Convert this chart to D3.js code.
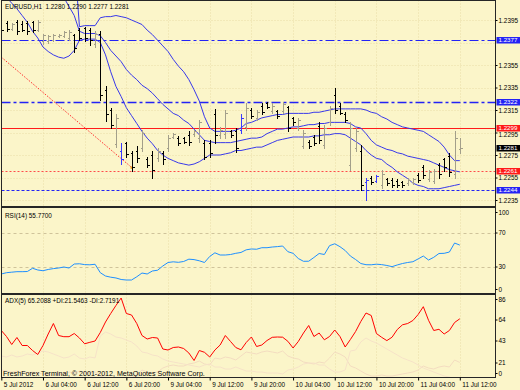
<!DOCTYPE html>
<html><head><meta charset="utf-8">
<script src="https://cdn.jsdelivr.net/npm/d3@7"></script>
<style>
body{margin:0;background:#fbf5c9;}
svg{display:block;}
text{font-family:"Liberation Sans",Arial,sans-serif;fill:#000;}
</style>
</head><body>
<svg id="c" width="520" height="390"></svg>
<script>
// ---------- DATA ----------
const symbol = "EURUSD,H1";
const timeLabels = ["5 Jul 2012","6 Jul 04:00","6 Jul 12:00","6 Jul 20:00","9 Jul 04:00","9 Jul 12:00","9 Jul 20:00","10 Jul 04:00","10 Jul 12:00","10 Jul 20:00","11 Jul 04:00","11 Jul 12:00"];
const labelEvery = 8; // bars between time labels (H1 bars)

const opens = [1.2393,1.2392,1.2387,1.2393,1.2391,1.2392,1.2393,1.2386,1.2376,1.2376,
1.2377,1.2381,1.2381,1.2379,1.2382,1.2386,1.2388,1.2386,1.2374,1.2383,
1.2333,1.2315,1.2285,1.2279,1.2286,1.2277,1.2279,1.2281,1.2271,1.2275,
1.2272,1.2277,1.2281,1.2291,1.2290,1.2290,1.2293,1.2294,1.2290,1.2286,
1.2286,1.2311,1.2293,1.2294,1.2296,1.2296,1.2297,1.2300,1.2315,1.2308,
1.2319,1.2321,1.2314,1.2314,1.2314,1.2318,1.2308,1.2299,1.2283,1.2287,
1.2291,1.2301,1.2284,1.2304,1.2328,1.2319,1.2311,1.2266,1.2281,1.2279,
1.2251,1.2255,1.2252,1.2248,1.2254,1.2253,1.2252,1.2251,1.2250,1.2251,
1.2257,1.2264,1.2254,1.2252,1.2266,1.2271,1.2274,1.2258,1.2280];
const highs = [1.2394,1.2394,1.2392,1.2395,1.2394,1.2394,1.2394,1.2395,1.2383,1.2382,
1.2383,1.2383,1.2385,1.2386,1.2383,1.2388,1.2389,1.2388,1.2385,1.2385,
1.2336,1.2317,1.2311,1.2286,1.2287,1.2279,1.2283,1.2297,1.2273,1.2279,
1.2281,1.2279,1.2293,1.2295,1.2292,1.2291,1.2296,1.2297,1.2306,1.2288,
1.2288,1.2316,1.2300,1.2315,1.2297,1.2299,1.2311,1.2321,1.2317,1.2315,
1.2321,1.2322,1.2321,1.2315,1.2322,1.2319,1.2309,1.2308,1.2297,1.2288,
1.2293,1.2304,1.2302,1.2319,1.2335,1.2321,1.2313,1.2304,1.2299,1.2284,
1.2255,1.2256,1.2257,1.2262,1.2255,1.2255,1.2254,1.2252,1.2255,1.2255,
1.2259,1.2266,1.2262,1.2263,1.2268,1.2272,1.2277,1.2296,1.2290];
const lows = [1.2384,1.2385,1.2386,1.2383,1.2385,1.2383,1.2384,1.2385,1.2374,1.2375,
1.2376,1.2380,1.2380,1.2377,1.2367,1.2377,1.2376,1.2373,1.2371,1.2324,
1.2305,1.2299,1.2282,1.2267,1.2273,1.2261,1.2269,1.2279,1.2264,1.2255,
1.2270,1.2267,1.2279,1.2290,1.2284,1.2286,1.2284,1.2292,1.2287,1.2271,
1.2273,1.2286,1.2290,1.2290,1.2291,1.2278,1.2295,1.2297,1.2308,1.2306,
1.2311,1.2317,1.2312,1.2308,1.2312,1.2296,1.2302,1.2297,1.2281,1.2281,
1.2284,1.2286,1.2281,1.2302,1.2312,1.2311,1.2304,1.2262,1.2279,1.2244,
1.2235,1.2249,1.2251,1.2246,1.2248,1.2247,1.2247,1.2247,1.2248,1.2249,
1.2251,1.2255,1.2252,1.2250,1.2255,1.2261,1.2256,1.2255,1.2277];
const closes = [1.2386,1.2387,1.2391,1.2385,1.2386,1.2385,1.2386,1.2393,1.2382,1.2381,
1.2382,1.2382,1.2384,1.2384,1.2370,1.2379,1.2379,1.2377,1.2383,1.2328,
1.2311,1.2302,1.2308,1.2271,1.2276,1.2264,1.2272,1.2295,1.2266,1.2262,
1.2279,1.2271,1.2290,1.2294,1.2286,1.2287,1.2287,1.2296,1.2304,1.2273,
1.2277,1.2293,1.2297,1.2312,1.2293,1.2281,1.2308,1.2317,1.2310,1.2313,
1.2313,1.2318,1.2319,1.2310,1.2320,1.2299,1.2304,1.2306,1.2295,1.2283,
1.2286,1.2288,1.2299,1.2317,1.2315,1.2312,1.2306,1.2299,1.2296,1.2248,
1.2253,1.2251,1.2256,1.2258,1.2250,1.2248,1.2248,1.2248,1.2253,1.2254,
1.2253,1.2257,1.2260,1.2261,1.2258,1.2264,1.2260,1.2290,1.2281];
const signalBars = [23,46,70,72];

const bandUpper = [1.2530,1.2528,1.2525,1.2522,1.2519,1.2515,1.2511,1.2506,1.2500,1.2494,1.2487,1.2480,1.2472,1.2463,1.2452,
1.2389,1.2390,1.2390,1.2390,1.2397,1.2398,1.2398,1.2399,1.2398,1.2397,1.2395,1.2393,1.2391,1.2386,1.2382,
1.2377,1.2372,1.2367,1.2360,1.2354,1.2349,1.2342,1.2333,1.2323,1.2309,1.2299,1.2296,1.2296,1.2296,1.2296,
1.2297,1.2299,1.2303,1.2304,1.2306,1.2308,1.2309,1.2310,1.2311,1.2311,1.2312,1.2312,1.2312,1.2312,1.2312,
1.2313,1.2313,1.2314,1.2315,1.2316,1.2316,1.2316,1.2316,1.2316,1.2316,1.2315,1.2313,1.2312,1.2309,1.2307,
1.2304,1.2302,1.2300,1.2299,1.2298,1.2297,1.2296,1.2293,1.2290,1.2287,1.2282,1.2275,1.2270,1.2270];
const bandMiddle = [1.2470,1.2466,1.2462,1.2457,1.2452,1.2447,1.2442,1.2437,1.2432,1.2427,1.2423,1.2419,1.2415,1.2407,1.2399,
1.2385,1.2383,1.2383,1.2383,1.2381,1.2375,1.2368,1.2363,1.2358,1.2351,1.2346,1.2342,1.2337,1.2334,1.2330,
1.2325,1.2320,1.2316,1.2312,1.2310,1.2306,1.2303,1.2298,1.2293,1.2288,1.2287,1.2286,1.2286,1.2286,1.2286,
1.2287,1.2288,1.2289,1.2290,1.2290,1.2291,1.2294,1.2296,1.2298,1.2298,1.2299,1.2300,1.2300,1.2301,1.2302,
1.2302,1.2303,1.2303,1.2304,1.2304,1.2304,1.2304,1.2303,1.2300,1.2299,1.2294,1.2288,1.2284,1.2282,1.2280,
1.2279,1.2277,1.2276,1.2274,1.2273,1.2272,1.2271,1.2270,1.2268,1.2266,1.2264,1.2262,1.2261,1.2260];
const bandLower = [1.2417,1.2415,1.2410,1.2405,1.2399,1.2393,1.2385,1.2379,1.2371,1.2367,1.2364,1.2362,1.2361,1.2363,1.2368,
1.2377,1.2378,1.2378,1.2378,1.2375,1.2364,1.2349,1.2336,1.2327,1.2317,1.2310,1.2303,1.2296,1.2290,1.2285,
1.2279,1.2275,1.2272,1.2270,1.2268,1.2267,1.2266,1.2267,1.2269,1.2272,1.2275,1.2275,1.2275,1.2276,1.2277,
1.2279,1.2279,1.2280,1.2281,1.2282,1.2282,1.2284,1.2286,1.2288,1.2289,1.2290,1.2291,1.2291,1.2291,1.2291,
1.2292,1.2292,1.2293,1.2293,1.2294,1.2294,1.2293,1.2290,1.2287,1.2284,1.2279,1.2275,1.2272,1.2271,1.2267,
1.2264,1.2260,1.2257,1.2254,1.2250,1.2248,1.2247,1.2245,1.2245,1.2245,1.2246,1.2247,1.2248,1.2249];

const priceTicks = [1.2235,1.2255,1.2275,1.2295,1.2315,1.2335,1.2355,1.2375,1.2395];
const dashDotLevels = [1.2377,1.2322];
const solidRedLevels = [1.2299];
const dottedRedLevels = [1.2261];
const dottedBlueLevels = [1.2244];
const trendIdx = [0,25];
const trendPrice = [1.2362,1.2264];

const rsi = [21.8,23.3,23.9,24.5,24.5,24.7,28.5,26.5,25.6,27.1,
28.1,28.8,30.0,28.8,33.5,33.8,32.8,32.6,33.2,23.3,
19.4,18.0,17.1,15.3,14.7,14.7,18.5,22.9,21.8,25.3,
26.2,31.2,35.3,36.1,35.5,36.5,39.2,38.7,37.3,35.3,
42.4,46.7,44.1,44.1,44.7,46.1,47.1,50.2,51.2,50.9,
52.7,52.7,53.5,54.0,54.7,48.0,46.1,40.0,36.7,36.8,
41.2,45.9,44.7,55.1,57.3,53.9,49.4,42.9,38.8,34.1,
32.7,32.6,33.3,32.8,31.8,30.4,32.4,34.1,35.3,36.2,
39.5,42.9,38.2,41.4,45.9,46.1,47.6,58.2,55.77];
const rsiLevels = [70,30];
const rsiTicks = [100,70,30,0];

const adx = [53.5,47.5,39.5,46.5,38.5,38.5,33.5,29.5,38.5,50,
60.5,48.5,47.3,47.3,50.5,46,40.2,41.7,43,51.5,
62,70.5,78.5,86,70.5,69,60.5,48.5,45,46.5,
46,35,34,36.5,37,35.5,31,23.5,33.5,31.7,
27,34,39,48.5,42.5,36.5,34.2,41.5,47,37.5,
39,43.5,46.7,47,46.8,42.7,36,42.5,51,58.5,
47.5,51,44.2,47.5,54,47.5,37,44.5,52.5,62.5,
71,68.5,50.5,46.7,43.4,46.8,54.5,59.2,60.5,63.5,
69.5,77.3,63.7,53.5,54.7,50,53.5,61.5,65.2088];
const plusDI = [14,13,12,13,12,11,12,11,10,9,
9,10,10,12,11,13,12,11,12,8,
6,5,4,4,5,6,9,14,12,11,
12,16,18,19,18,18,20,21,23,20,
19,26,25,27,26,24,28,32,31,30,
32,33,32,31,33,28,26,25,22,21,
20,22,21,26,32,30,27,18,16,13,
10,8,8,9,8,8,9,10,11,12,
14,18,16,15,17,18,17,24,21.5463];
const minusDI = [28,27,29,27,28,30,29,31,33,32,
30,28,26,27,30,26,25,27,26,48,
52,50,47,46,44,42,38,32,31,29,
28,25,23,22,21,20,19,18,17,19,
20,17,17,15,15,17,15,13,13,12,
12,11,11,11,10,14,15,17,20,21,
21,19,19,15,12,12,14,33,34,42,
46,43,41,38,35,32,29,26,24,22,
19,16,14,12,10,8,7,4,2.7191];
const adxTicks = [86,64,43,21,0];
const footer = "FreshForex Terminal, \u00A9 2001-2012, MetaQuotes Software Corp.";

// ---------- LAYOUT ----------
const svg = d3.select('#c');
const PL = 1.5, PR = 495.5;
const P = {main:[0.5,206.5], rsi:[207.5,293.5], adx:[294.5,377.5]};
const n = opens.length;
const x = d3.scaleLinear().domain([0, n-1]).range([1.3, 459.8]);
const yP = d3.scaleLinear().domain([1.2235,1.2395]).range([200,20]);
const yR = d3.scaleLinear().domain([0,100]).range([292.5,207.5]);
const yA = d3.scaleLinear().domain([0,86]).range([384,298]);
const f4 = d3.format('.4f');
const FS = '6.4px';
const BLUE = '#2323f5', RED = '#ff1a1a';

svg.append('rect').attr('width',520).attr('height',390).attr('fill','#fbf5c9');

const defs = svg.append('defs');
Object.entries(P).forEach(([k,[t,b]])=>{
  defs.append('clipPath').attr('id','clip-'+k).append('rect')
    .attr('x',PL).attr('y',t).attr('width',PR-PL).attr('height',b-t);
});

const tickIdx = timeLabels.map((d,i)=>i*labelEvery);

function panel(key){
  const g = svg.append('g').attr('clip-path',`url(#clip-${key})`);
  const [t,b] = P[key];
  g.append('g').selectAll('line').data(tickIdx).join('line')
    .attr('x1',d=>Math.round(x(d))+0.5).attr('x2',d=>Math.round(x(d))+0.5)
    .attr('y1',t).attr('y2',b).attr('stroke','#e8dda6').attr('stroke-dasharray','1,2');
  return g;
}

// ---------- MAIN ----------
const gm = panel('main');
gm.append('g').selectAll('line').data(priceTicks).join('line')
  .attr('x1',PL).attr('x2',PR).attr('y1',d=>Math.round(yP(d))+0.5).attr('y2',d=>Math.round(yP(d))+0.5)
  .attr('stroke','#e8dda6').attr('stroke-dasharray','1,2');

const hline = (vals, color, dash, w) => gm.append('g').selectAll('line').data(vals).join('line')
  .attr('x1',PL).attr('x2',PR).attr('y1',d=>Math.round(yP(d))+0.5).attr('y2',d=>Math.round(yP(d))+0.5)
  .attr('stroke',color).attr('stroke-width',(d,i)=>typeof w==='function'?w(i):w).attr('stroke-dasharray',dash);
hline(dashDotLevels, BLUE, '9,3,3,3', i=> i===0?1:1.6);
hline(solidRedLevels, RED, null, 1.2);
hline(dottedRedLevels, '#ff4a4a', '2,2', 1);
hline(dottedBlueLevels, BLUE, '3,2', 1.2);

gm.append('line')
  .attr('x1',x(trendIdx[0])).attr('y1',yP(trendPrice[0]))
  .attr('x2',x(trendIdx[1])).attr('y2',yP(trendPrice[1]))
  .attr('stroke','#ff3030').attr('stroke-dasharray','1.5,1.5');
gm.append('rect').attr('x',x(trendIdx[1])-1).attr('y',yP(trendPrice[1])-1).attr('width',2.5).attr('height',2.5).attr('fill','#f0a020');

const bandLine = d3.line().x((d,i)=>x(i)).y(d=>yP(d));
[bandUpper, bandMiddle, bandLower].forEach(arr=>{
  gm.append('path').attr('d',bandLine(arr)).attr('fill','none')
    .attr('stroke','#3838ea').attr('stroke-width',1);
});

const barColor = i => signalBars.includes(i) ? '#3a3aff' : (closes[i] >= opens[i] ? '#a39f8a' : '#000000');
gm.append('g').attr('shape-rendering','crispEdges').selectAll('path').data(d3.range(n)).join('path')
  .attr('fill','none').attr('stroke',barColor).attr('stroke-width',1)
  .attr('d', i=>{
    const xx = Math.round(x(i))+0.5;
    const yo = Math.round(yP(opens[i]))+0.5, yc = Math.round(yP(closes[i]))+0.5;
    return `M${xx},${Math.round(yP(highs[i]))}V${Math.round(yP(lows[i]))+1}M${xx-2},${yo}H${xx}M${xx},${yc}H${xx+2}`;
  });

svg.append('text').attr('x',5).attr('y',9).style('font-size',FS).style('white-space','pre')
  .text(`${symbol}  ${f4(opens[n-1])} ${f4(highs[n-1])} ${f4(lows[n-1])} ${f4(closes[n-1])}`);

// ---------- RSI ----------
const gr = panel('rsi');
gr.append('g').selectAll('line').data(rsiLevels).join('line')
  .attr('x1',PL).attr('x2',PR).attr('y1',d=>Math.round(yR(d))+0.5).attr('y2',d=>Math.round(yR(d))+0.5)
  .attr('stroke','#cfc39a').attr('stroke-dasharray','3,3');
gr.append('path').attr('d', d3.line().x((d,i)=>x(i)).y(d=>yR(d))(rsi))
  .attr('fill','none').attr('stroke','#1e8fff').attr('stroke-width',1);
svg.append('text').attr('x',5).attr('y',217.5).style('font-size',FS)
  .text(`RSI(14) ${f4(rsi[n-1])}`);

// ---------- ADX ----------
const ga = panel('adx');
const adxLine = d3.line().x((d,i)=>x(i)).y(d=>yA(d));
ga.append('path').attr('d',adxLine(plusDI)).attr('fill','none').attr('stroke','#f3dcc0').attr('stroke-width',1);
ga.append('path').attr('d',adxLine(minusDI)).attr('fill','none').attr('stroke','#f6e2c8').attr('stroke-width',1);
ga.append('path').attr('d',adxLine(adx)).attr('fill','none').attr('stroke','#ff0000').attr('stroke-width',1);
svg.append('text').attr('x',5).attr('y',303).style('font-size',FS).style('white-space','pre')
  .text(`ADX(5) ${f4(adx[n-1])} +DI:${f4(plusDI[n-1])} -DI:${f4(minusDI[n-1])}`);
svg.append('text').attr('x',3).attr('y',376).style('font-size','7.1px').text(footer);

// ---------- BORDERS ----------
Object.values(P).forEach(([t,b])=>{
  svg.append('rect').attr('x',PL).attr('y',t).attr('width',PR-PL).attr('height',b-t)
    .attr('fill','none').attr('stroke','#262626').attr('stroke-width',1).attr('shape-rendering','crispEdges');
});

// ---------- AXES ----------
const boxLevels = [...dashDotLevels, ...dottedBlueLevels, ...solidRedLevels, ...dottedRedLevels, closes[n-1]];
const boxYs = boxLevels.map(v=>Math.round(yP(v)));
// tick labels hidden by a level box are dropped; ones just below a box are nudged down
const visibleTicks = priceTicks.filter(t=>!boxYs.some(by=>Math.abs(yP(t)-by) < 4));
const ax = svg.append('g').attr('transform',`translate(${PR},0)`)
  .call(d3.axisRight(yP).tickValues(visibleTicks).tickSize(2).tickPadding(1).tickFormat(f4));
ax.select('.domain').remove();
ax.selectAll('text').style('font-size',FS).attr('fill','#000')
  .attr('y', d=>{ const by = boxYs.find(b=>yP(d)-b>=4 && yP(d)-b<6.5); return by!==undefined ? 1.5 : 0; });
ax.selectAll('line').attr('stroke','#000');

function boxes(vals, color){
  const g = svg.append('g').selectAll('g').data(vals).join('g')
    .attr('transform',d=>`translate(${PR+1},${Math.round(yP(d))})`);
  g.append('rect').attr('x',0).attr('y',-3).attr('width',24).attr('height',6.5).attr('fill',color);
  g.append('text').attr('x',2).attr('y',0.3).attr('dy','0.35em').style('font-size','6.2px')
    .style('fill','#fff').text(d=>f4(d));
}
boxes(dashDotLevels, BLUE);
boxes(dottedBlueLevels, BLUE);
boxes(solidRedLevels, RED);
boxes(dottedRedLevels, RED);
boxes([closes[n-1]], '#000');

function sideLabels(vals, scale, key){
  const [t,b] = P[key];
  const pos = d=>Math.min(Math.max(scale(d), t+5), b-4);
  svg.append('g').selectAll('text').data(vals).join('text')
    .attr('x',PR+3).attr('y',pos).attr('dy','0.35em')
    .style('font-size',FS).text(d=>d);
  svg.append('g').selectAll('line').data(vals).join('line')
    .attr('x1',PR).attr('x2',PR+2).attr('y1',pos).attr('y2',pos)
    .attr('stroke','#000');
}
sideLabels(rsiTicks, yR, 'rsi');
sideLabels(adxTicks, yA, 'adx');

const tx = svg.append('g').attr('transform',`translate(0,${P.adx[1]})`)
  .call(d3.axisBottom(x).tickValues(tickIdx).tickSize(3).tickPadding(2).tickFormat((d,i)=>timeLabels[i]));
tx.select('.domain').remove();
tx.selectAll('line').attr('stroke','#000');
tx.selectAll('text').attr('text-anchor','start').attr('x',2).style('font-size',FS).attr('fill','#000');
</script>
</body></html>
